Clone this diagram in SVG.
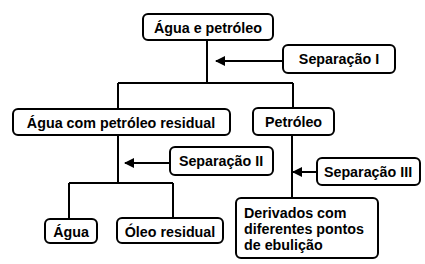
<svg xmlns="http://www.w3.org/2000/svg" width="425" height="264" viewBox="0 0 425 264">
<defs>
<style>
.box{fill:#fff;stroke:#000;stroke-width:2}
.t{font-family:"Liberation Sans",Arial,sans-serif;font-weight:bold;font-size:14.3px;fill:#000}
.c{text-anchor:middle}
.ln{stroke:#000;stroke-width:2;fill:none}
</style>
<marker id="ah" markerUnits="userSpaceOnUse" markerWidth="10" markerHeight="10" refX="9" refY="5" orient="auto">
<path d="M0,0 L10,5 L0,10 Z" fill="#000"/>
</marker>
</defs>
<rect width="425" height="264" fill="#fff"/>
<g id="connectors">
<path class="ln" d="M207,40 V83 M118,83 H293 M118,83 V109 M293,83 V108"/>
<path class="ln" d="M118,135 V183 M69,183 H173 M69,183 V219 M173,183 V218"/>
<path class="ln" d="M292,135 V198"/>
<line class="ln" x1="283" y1="61" x2="216" y2="61" marker-end="url(#ah)"/>
<line class="ln" x1="170" y1="163" x2="125" y2="163" marker-end="url(#ah)"/>
<line class="ln" x1="317" y1="172" x2="293" y2="172" marker-end="url(#ah)"/>
</g>
<g id="agua-petroleo"><rect class="box" x="143" y="14" width="130" height="26" rx="5"/><text class="t c" x="208" y="33">Água e petróleo</text></g>
<g id="separacao-1"><rect class="box" x="283" y="45" width="112" height="28" rx="5"/><text class="t c" x="339" y="64">Separação I</text></g>
<g id="agua-residual"><rect class="box" x="13" y="109" width="217" height="26" rx="5"/><text class="t c" x="121" y="128">Água com petróleo residual</text></g>
<g id="petroleo"><rect class="box" x="253" y="108" width="81" height="27" rx="5"/><text class="t c" x="293.5" y="127">Petróleo</text></g>
<g id="separacao-2"><rect class="box" x="170" y="147" width="103" height="28" rx="5"/><text class="t c" x="221" y="166">Separação II</text></g>
<g id="separacao-3"><rect class="box" x="317" y="158" width="103" height="27" rx="5"/><text class="t c" x="368" y="177">Separação III</text></g>
<g id="derivados"><rect class="box" x="236" y="198" width="142" height="60" rx="5"/><text class="t" x="244" y="218">Derivados com</text><text class="t" x="244" y="234">diferentes pontos</text><text class="t" x="244" y="250">de ebulição</text></g>
<g id="agua"><rect class="box" x="45" y="219" width="52" height="24" rx="5"/><text class="t c" x="71" y="237">Água</text></g>
<g id="oleo-residual"><rect class="box" x="117" y="218" width="106" height="25" rx="5"/><text class="t c" x="170" y="237">Óleo residual</text></g>
</svg>
